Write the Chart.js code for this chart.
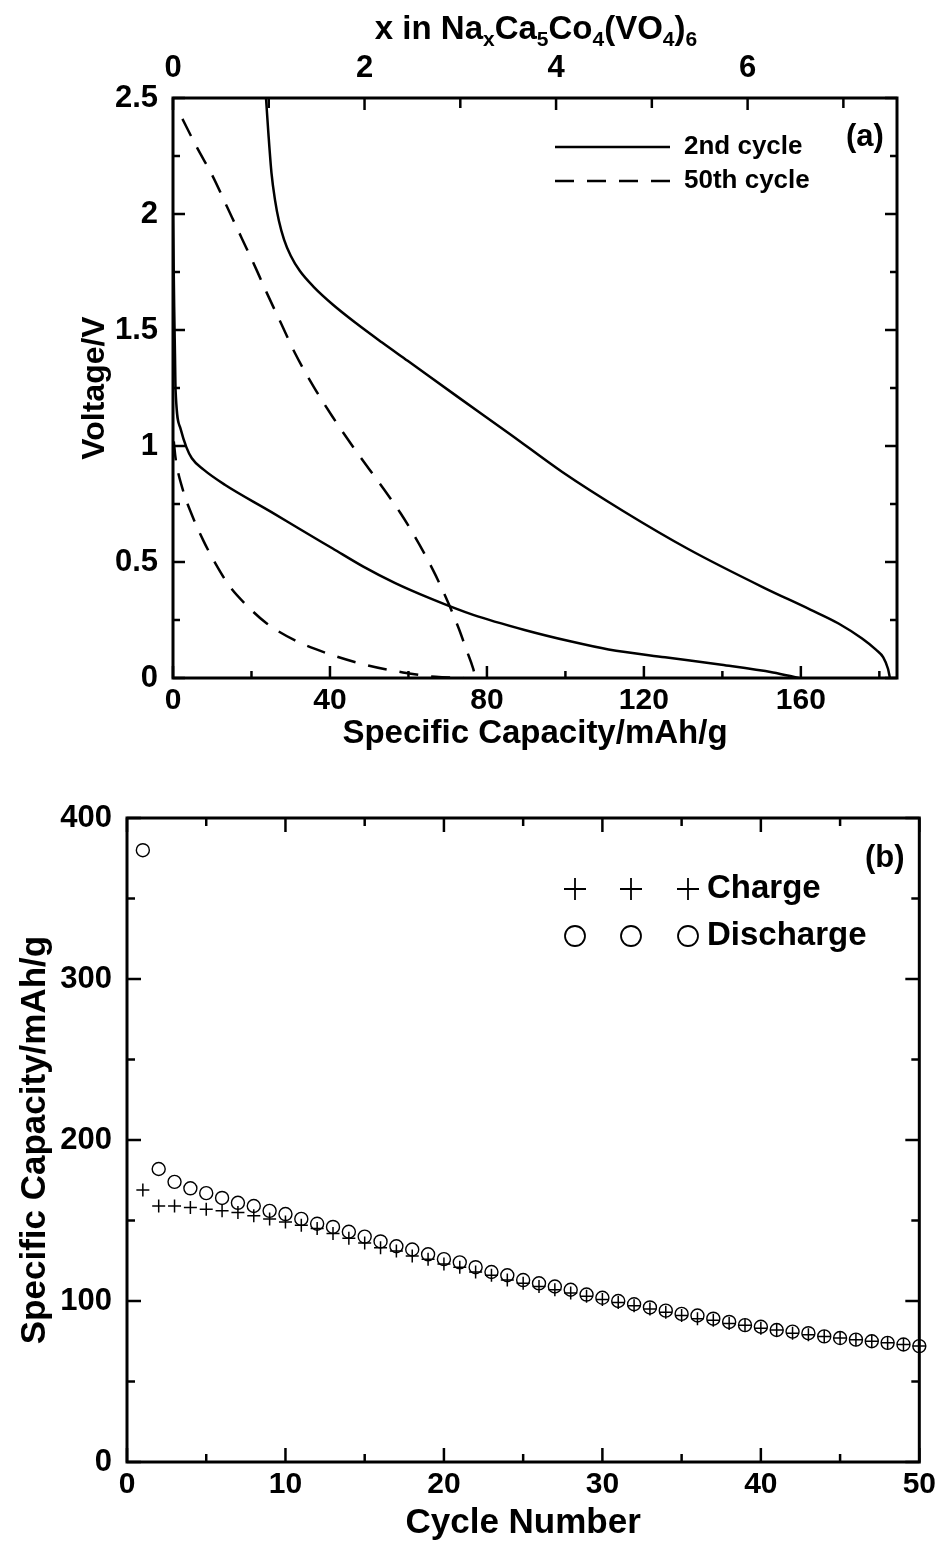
<!DOCTYPE html>
<html>
<head>
<meta charset="utf-8">
<script src="https://cdn.jsdelivr.net/npm/chart.js@4.4.1/dist/chart.umd.min.js"></script>
<style>
  body { margin: 0; background: #fff; width: 941px; height: 1553px; overflow: hidden; }
  #wa { position: absolute; left: 0; top: 0; width: 941px; height: 760px; }
  #wb { position: absolute; left: 0; top: 760px; width: 941px; height: 793px; }
</style>
</head>
<body>
<div id="wa"><canvas id="ca"></canvas></div>
<div id="wb"><canvas id="cb"></canvas></div>
<script>
// ---- (a) voltage profiles, capacity in mAh/g vs voltage in V
const cap2ndCharge  = [23.7, 24.3, 25.1, 26.0, 27.0, 28.3, 30.0, 32.3, 35.9, 40.7, 46.6, 53.2, 59.8, 72.3, 86.0, 99.2, 114.7, 131.4, 150.5, 162.4, 169.6, 175.6, 179.2, 181.0, 182.2, 182.7];
const volt2ndCharge = [2.50, 2.35, 2.176, 2.06, 1.97, 1.89, 1.82, 1.755, 1.685, 1.61, 1.53, 1.447, 1.367, 1.215, 1.05, 0.888, 0.72, 0.555, 0.39, 0.295, 0.235, 0.17, 0.121, 0.089, 0.04, 0.0];
const cap2ndDischarge  = [0.0, 0.3, 0.5, 0.66, 1.9, 3.4, 4.8, 7.8, 13.2, 25.1, 32.5, 40.7, 48.5, 56.5, 65.7, 76.5, 89.6, 101.5, 111.0, 125.4, 139.8, 152.9, 159.5];
const volt2ndDischarge = [2.0, 1.6, 1.4, 1.24, 1.076, 0.995, 0.947, 0.898, 0.833, 0.715, 0.64, 0.558, 0.48, 0.41, 0.342, 0.272, 0.207, 0.157, 0.123, 0.089, 0.057, 0.024, 0.0];
const cap50thCharge  = [2.4, 6.0, 10.2, 13.8, 17.4, 21.0, 23.9, 27.5, 31.1, 35.9, 40.7, 46.6, 52.6, 58.0, 62.8, 67.0, 70.5, 72.9, 74.7, 76.5, 77.1];
const volt50thCharge = [2.41, 2.29, 2.16, 2.03, 1.90, 1.77, 1.66, 1.53, 1.40, 1.254, 1.125, 0.979, 0.84, 0.71, 0.575, 0.44, 0.31, 0.21, 0.125, 0.04, 0.0];
const cap50thDischarge  = [0.2, 0.66, 2.4, 4.8, 7.8, 10.8, 14.4, 18.6, 23.9, 31.1, 39.5, 49.0, 58.6, 66.9, 74.0];
const volt50thDischarge = [1.02, 0.947, 0.817, 0.704, 0.59, 0.494, 0.396, 0.316, 0.235, 0.162, 0.105, 0.057, 0.024, 0.005, 0.0];

const capMax = 184.5;
const naMax = 7.56;           // top axis: x in NaxCa5Co4(VO4)6
const capTicks = [0, 40, 80, 120, 160];
const capMinor = [20, 60, 100, 140, 180];
const naTicks = [0, 2, 4, 6];
const naMinor = [1, 3, 5, 7];
const voltTicks = [0, 0.5, 1, 1.5, 2, 2.5];
const voltMinor = [0.25, 0.75, 1.25, 1.75, 2.25];

// ---- (b) cycling
const cycles = [];
for (let i = 1; i <= 50; i++) cycles.push(i);
const chargeCap = [169, 159, 159, 158, 157, 156, 155, 153, 151, 149, 147, 145, 142, 139, 136, 133, 131, 128, 126, 123,
                   121, 118, 116, 113, 111, 109, 107, 105, 103, 101, 99, 97, 95, 93, 91, 89, 88, 86, 85, 83,
                   82, 80, 79, 78, 77, 76, 75, 74, 73, 72];
const dischargeCap = [380, 182, 174, 170, 167, 164, 161, 159, 156, 154, 151, 148, 146, 143, 140, 137, 134, 132, 129, 126,
                      124, 121, 118, 116, 113, 111, 109, 107, 104, 102, 100, 98, 96, 94, 92, 91, 89, 87, 85, 84,
                      82, 81, 80, 78, 77, 76, 75, 74, 73, 72];
const cycleTicks = [0, 10, 20, 30, 40, 50];
const cycleMinor = [5, 15, 25, 35, 45];
const specTicks = [0, 100, 200, 300, 400];
const specMinor = [50, 150, 250, 350];

const FONT = "'Liberation Sans', Arial, sans-serif";
Chart.defaults.color = '#000';
Chart.defaults.font.family = FONT;

function xy(xs, ys) {
  return xs.map((x, i) => ({ x: x, y: ys[i] }));
}

// frame + inward tick marks, drawn from scale positions
function frame(marks, extra) {
  return {
    id: 'frame',
    afterDraw(chart) {
      const ctx = chart.ctx, a = chart.chartArea;
      ctx.save();
      ctx.strokeStyle = '#000';
      ctx.lineWidth = 3;
      ctx.strokeRect(a.left, a.top, a.right - a.left, a.bottom - a.top);
      ctx.lineWidth = 2.5;
      marks.forEach(m => {
        const s = chart.scales[m.scale];
        m.values.forEach(v => {
          const p = s.getPixelForValue(v);
          ctx.beginPath();
          if (m.side === 'bottom') { ctx.moveTo(p, a.bottom); ctx.lineTo(p, a.bottom - m.len); }
          if (m.side === 'top') { ctx.moveTo(p, a.top); ctx.lineTo(p, a.top + m.len); }
          if (m.side === 'left') { ctx.moveTo(a.left, p); ctx.lineTo(a.left + m.len, p); }
          if (m.side === 'right') { ctx.moveTo(a.right, p); ctx.lineTo(a.right - m.len, p); }
          ctx.stroke();
        });
      });
      if (extra) extra(chart, ctx);
      ctx.restore();
    }
  };
}

function tickFont(size) { return { family: FONT, size: size, weight: 'bold' }; }
const fmt = v => String(+Number(v).toFixed(2));
const DASH = [19, 13];

function curve(label, xs, ys, dash) {
  return {
    label: label, data: xy(xs, ys), showLine: true, borderColor: '#000', borderWidth: 2.5,
    borderDash: dash || [], pointRadius: 0, cubicInterpolationMode: 'monotone'
  };
}

// ---------- chart (a)
new Chart(document.getElementById('ca'), {
  type: 'scatter',
  data: {
    datasets: [
      curve('2nd cycle', cap2ndCharge, volt2ndCharge),
      curve('2nd cycle d', cap2ndDischarge, volt2ndDischarge),
      curve('50th cycle', cap50thCharge, volt50thCharge, DASH),
      curve('50th cycle d', cap50thDischarge, volt50thDischarge, DASH)
    ]
  },
  options: {
    responsive: true,
    maintainAspectRatio: false,
    animation: false,
    layout: { padding: 0 },
    plugins: { legend: { display: false }, tooltip: { enabled: false } },
    scales: {
      x: {
        type: 'linear', position: 'bottom', min: 0, max: capMax,
        afterFit: s => { s.height = 82; },
        afterBuildTicks: s => { s.ticks = capTicks.map(v => ({ value: v })); },
        grid: { display: false, drawTicks: false }, border: { display: false },
        ticks: { padding: 5, font: tickFont(30), maxRotation: 0, autoSkip: false },
        title: { display: true, text: 'Specific Capacity/mAh/g', font: tickFont(33), padding: { top: 0, bottom: 6 } }
      },
      x2: {
        type: 'linear', position: 'top', min: 0, max: naMax,
        afterFit: s => { s.height = 98; },
        afterBuildTicks: s => { s.ticks = naTicks.map(v => ({ value: v })); },
        grid: { display: false, drawTicks: false }, border: { display: false },
        ticks: { padding: 11, font: tickFont(31), maxRotation: 0, autoSkip: false }
      },
      y: {
        type: 'linear', position: 'left', min: 0, max: 2.5,
        afterFit: s => { s.width = 173; },
        afterBuildTicks: s => { s.ticks = voltTicks.map(v => ({ value: v })); },
        grid: { display: false, drawTicks: false }, border: { display: false },
        ticks: { padding: 15, font: tickFont(31), callback: fmt },
        title: { display: true, text: 'Voltage/V', font: tickFont(32), padding: { top: 76, bottom: 0 } }
      },
      y2: {
        type: 'linear', position: 'right', min: 0, max: 2.5,
        afterFit: s => { s.width = 44; },
        grid: { display: false, drawTicks: false }, border: { display: false },
        ticks: { display: false }
      }
    }
  },
  plugins: [frame([
    { scale: 'x', side: 'bottom', values: capTicks, len: 12 },
    { scale: 'x', side: 'bottom', values: capMinor, len: 7 },
    { scale: 'x2', side: 'top', values: naTicks, len: 12 },
    { scale: 'x2', side: 'top', values: naMinor, len: 10 },
    { scale: 'y', side: 'left', values: voltTicks, len: 12 },
    { scale: 'y', side: 'left', values: voltMinor, len: 7 },
    { scale: 'y', side: 'right', values: voltTicks, len: 12 },
    { scale: 'y', side: 'right', values: voltMinor, len: 7 }
  ], (chart, ctx) => {
    // top axis title with subscripts
    const parts = [['x in Na', 0], ['x', 1], ['Ca', 0], ['5', 1], ['Co', 0], ['4', 1], ['(VO', 0], ['4', 1], [')', 0], ['6', 1]];
    const big = 'bold 33px ' + FONT, small = 'bold 21px ' + FONT;
    let w = 0;
    parts.forEach(p => { ctx.font = p[1] ? small : big; w += ctx.measureText(p[0]).width; });
    let x = 536 - w / 2;
    ctx.fillStyle = '#000';
    ctx.textBaseline = 'alphabetic';
    ctx.textAlign = 'left';
    parts.forEach(p => {
      ctx.font = p[1] ? small : big;
      ctx.fillText(p[0], x, p[1] ? 46 : 39);
      x += ctx.measureText(p[0]).width;
    });
    // legend
    const ds = chart.data.datasets;
    ctx.lineWidth = 2.5;
    [[ds[0], 147], [ds[2], 181]].forEach(([d, y]) => {
      ctx.setLineDash(d.borderDash || []);
      ctx.beginPath();
      ctx.moveTo(555, y);
      ctx.lineTo(670, y);
      ctx.stroke();
      ctx.setLineDash([]);
      ctx.font = 'bold 26px ' + FONT;
      ctx.textBaseline = 'middle';
      ctx.fillText(d.label, 684, y);
    });
    ctx.font = 'bold 31px ' + FONT;
    ctx.fillText('(a)', 846, 137);
  })]
});

// ---------- chart (b)
new Chart(document.getElementById('cb'), {
  type: 'scatter',
  data: {
    datasets: [
      { label: 'Charge', data: xy(cycles, chargeCap), pointStyle: 'cross', pointRadius: 6.5, borderColor: '#000', borderWidth: 1.5, clip: false },
      { label: 'Discharge', data: xy(cycles, dischargeCap), pointStyle: 'circle', pointRadius: 6.5, borderColor: '#000', backgroundColor: 'rgba(0,0,0,0)', borderWidth: 1.4, clip: false }
    ]
  },
  options: {
    responsive: true,
    maintainAspectRatio: false,
    animation: false,
    layout: { padding: { top: 58 } },
    plugins: { legend: { display: false }, tooltip: { enabled: false } },
    scales: {
      x: {
        type: 'linear', position: 'bottom', min: 0, max: 50,
        afterFit: s => { s.height = 91; },
        afterBuildTicks: s => { s.ticks = cycleTicks.map(v => ({ value: v })); },
        grid: { display: false, drawTicks: false }, border: { display: false },
        ticks: { padding: 5, font: tickFont(30), maxRotation: 0, autoSkip: false },
        title: { display: true, text: 'Cycle Number', font: tickFont(35), padding: { top: 0, bottom: 9 } }
      },
      y: {
        type: 'linear', position: 'left', min: 0, max: 400,
        afterFit: s => { s.width = 127; },
        afterBuildTicks: s => { s.ticks = specTicks.map(v => ({ value: v })); },
        grid: { display: false, drawTicks: false }, border: { display: false },
        ticks: { padding: 15, font: tickFont(31) },
        title: { display: true, text: 'Specific Capacity/mAh/g', font: tickFont(35), padding: { top: 14, bottom: 0 } }
      },
      y2: {
        type: 'linear', position: 'right', min: 0, max: 400,
        afterFit: s => { s.width = 21; },
        grid: { display: false, drawTicks: false }, border: { display: false },
        ticks: { display: false }
      }
    }
  },
  plugins: [frame([
    { scale: 'x', side: 'bottom', values: cycleTicks, len: 14 },
    { scale: 'x', side: 'bottom', values: cycleMinor, len: 8 },
    { scale: 'x', side: 'top', values: cycleTicks, len: 14 },
    { scale: 'x', side: 'top', values: cycleMinor, len: 8 },
    { scale: 'y', side: 'left', values: specTicks, len: 14 },
    { scale: 'y', side: 'left', values: specMinor, len: 8 },
    { scale: 'y', side: 'right', values: specTicks, len: 14 },
    { scale: 'y', side: 'right', values: specMinor, len: 8 }
  ], (chart, ctx) => {
    const ds = chart.data.datasets;
    ctx.fillStyle = '#000';
    ctx.strokeStyle = '#000';
    ctx.lineWidth = 1.8;
    [[ds[0], 129], [ds[1], 176]].forEach(([d, y]) => {
      [575, 631, 688].forEach(x => {
        ctx.beginPath();
        if (d.pointStyle === 'cross') {
          ctx.moveTo(x - 11, y); ctx.lineTo(x + 11, y);
          ctx.moveTo(x, y - 11); ctx.lineTo(x, y + 11);
        } else {
          ctx.arc(x, y, 10, 0, Math.PI * 2);
        }
        ctx.stroke();
      });
      ctx.font = 'bold 33px ' + FONT;
      ctx.textBaseline = 'middle';
      ctx.textAlign = 'left';
      ctx.fillText(d.label, 707, y);
    });
    ctx.font = 'bold 31px ' + FONT;
    ctx.fillText('(b)', 865, 98);
  })]
});
</script>
</body>
</html>
